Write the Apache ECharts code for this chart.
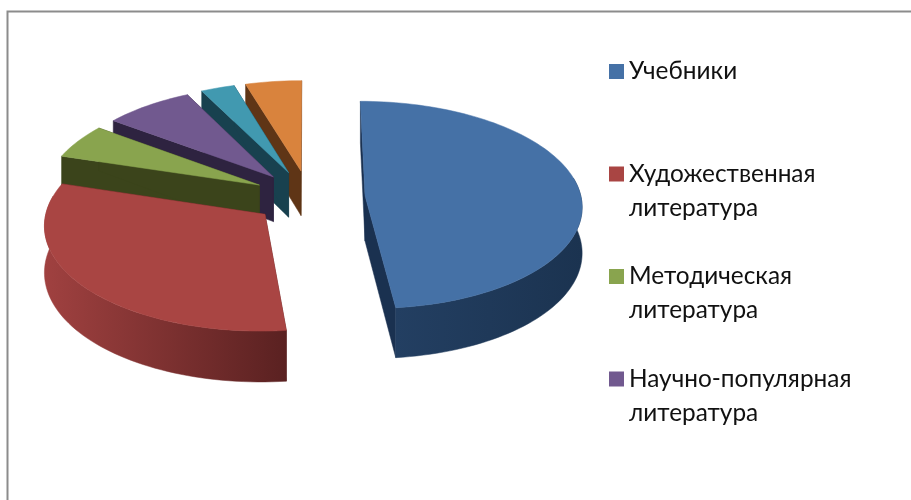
<!DOCTYPE html>
<html><head><meta charset="utf-8">
<style>html,body{margin:0;padding:0;background:#fff}#c{width:911px;height:500px}</style>
<script src="https://cdn.jsdelivr.net/npm/echarts@6/dist/echarts.min.js"></script>
</head><body><div id="c"></div>
<script>
const categories = ['Учебники','Художественная литература','Методическая литература','Научно-популярная литература','Серия 5','Серия 6'];
const values = [48.3,31.45,5.4,7.4,2.8,4.65];
const legendNames = categories.slice(0,4);
const topColors = ['#4571a6','#a94543','#89a44e','#71598f','#4199b0','#d9833d'];
const wallColors = ['#1a3150','#5a2020','#3b441b','#2e2340','#18414f','#5f3516'];
const arcLeftColors = ['#233f62','#a04140','#3b441b','#2e2340','#18414f','#5f3516'];
const arcRightColors = ['#1b3350','#5a2121','#3b441b','#2e2340','#18414f','#5f3516'];

// projection constants of the tilted pie
const CX=309, CY=197, R=216, A=103, K=0.09, DEPTH=45.5, EXPLODE=0.26;
const total = values.reduce((a,b)=>a+b,0);
function project(x,v,z){const s=1/(1+K*v);return [CX+R*x*s, CY-A*v*s+z*DEPTH*s];}

function renderSlice(i){
  let start=0; for(let j=0;j<i;j++) start+=values[j];
  const a0=start/total*2*Math.PI, a1=(start+values[i])/total*2*Math.PI, mid=(a0+a1)/2;
  const ox=EXPLODE*Math.sin(mid), ov=EXPLODE*Math.cos(mid);
  const pt=(t,z)=>project(ox+Math.sin(t),ov+Math.cos(t),z);
  const apex=z=>project(ox,ov,z);
  const n=Math.max(4,Math.ceil((a1-a0)/0.03));
  const top=[apex(0)];
  for(let k=0;k<=n;k++) top.push(pt(a0+(a1-a0)*k/n,0));
  const poly=(points,fill)=>({type:'polygon',shape:{points},style:{fill,stroke:fill,lineWidth:0.5}});
  const children=[
    poly([apex(0),pt(a0,0),pt(a0,1),apex(1)],wallColors[i]),
    poly([apex(0),pt(a1,0),pt(a1,1),apex(1)],wallColors[i])
  ];
  const lo=Math.max(a0,80*Math.PI/180), hi=Math.min(a1,280*Math.PI/180);
  if(hi>lo){
    const up=[],dn=[];
    const m=Math.ceil((hi-lo)/0.03);
    for(let k=0;k<=m;k++){const t=lo+(hi-lo)*k/m;up.push(pt(t,0));dn.unshift(pt(t,1));}
    // left-to-right shading across the wall
    const grad=new echarts.graphic.LinearGradient(0,0,1,0,[
      {offset:0,color:arcLeftColors[i]},{offset:1,color:arcRightColors[i]}]);
    children.push(poly(up.concat(dn),grad));
  }
  children.push(poly(top,topColors[i]));
  return {type:'group',children};
}

const order=[5,4,3,2,1,0];
const series=order.map(i=>({
  type:'custom',name:categories[i],coordinateSystem:'none',
  itemStyle:{color:topColors[i]},
  data:[[values[i]]],
  renderItem:()=>renderSlice(i),
  silent:true
}));

const chart=echarts.init(document.getElementById('c'),null,{renderer:'canvas'});
chart.setOption({
  animation:false,
  backgroundColor:'#ffffff',
  graphic:[{type:'polyline',shape:{points:[[7.5,500],[7.5,11.5],[911,11.5]]},style:{stroke:'#8c8c8c',lineWidth:2,fill:null},silent:true}],
  legend:{
    orient:'vertical',left:609,top:20.5,padding:0,itemGap:0.5,itemWidth:15,itemHeight:15,icon:'rect',
    selectedMode:false,align:'left',
    data:legendNames,
    formatter:n=>'\n'+n.replace(' ','\n')+(n.includes(' ')?'':'\n'),
    textStyle:{fontFamily:'Lato, "Open Sans", sans-serif',fontSize:24.4,lineHeight:34,color:'#111111',padding:[0,0,0,0]}
  },
  series
});
</script></body></html>
